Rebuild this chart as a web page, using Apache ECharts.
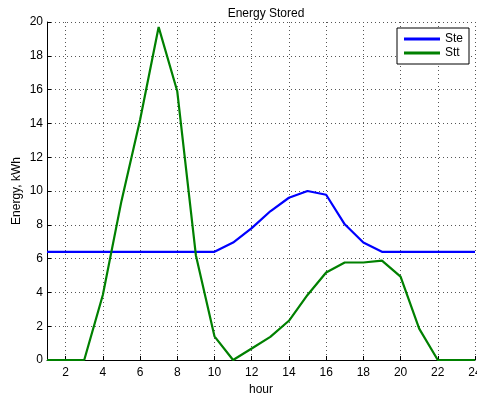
<!DOCTYPE html>
<html><head><meta charset="utf-8">
<script src="https://cdn.jsdelivr.net/npm/echarts@6/dist/echarts.min.js"></script>
<style>html,body{margin:0;padding:0;background:#fff}#c{width:477px;height:393px}</style>
</head><body><div id="c"></div>
<script>
var hours = [1,2,3,4,5,6,7,8,9,10,11,12,13,14,15,16,17,18,19,20,21,22,23,24];
var ste = [6.4,6.4,6.4,6.4,6.4,6.4,6.4,6.4,6.4,6.4,6.95,7.8,8.8,9.6,10.0,9.78,8.03,6.95,6.4,6.4,6.4,6.4,6.4,6.4];
var stt = [0,0,0,3.85,9.4,14.2,19.7,15.9,6.2,1.4,0,0.68,1.37,2.32,3.85,5.18,5.77,5.77,5.88,4.93,1.86,0,0,0];
var xTicks = [2,4,6,8,10,12,14,16,18,20,22,24];
var yTicks = [0,2,4,6,8,10,12,14,16,18,20];
var font = 'Liberation Sans, Arial, Helvetica, sans-serif';
function pairs(v){ return hours.map(function(h,i){ return [h, v[i]]; }); }
var chart = echarts.init(document.getElementById('c'), null, {renderer:'canvas'});
chart.setOption({
  animation:false,
  backgroundColor:'#fff',
  title:{text:'Energy Stored', left:261, textAlign:'center', top:3,
    textStyle:{fontFamily:font, fontSize:12, fontWeight:'normal', color:'#000'}},
  legend:{left:397, top:28, orient:'vertical', icon:'rect', itemWidth:36, itemHeight:3, itemGap:0,
    padding:[4,6,4,7], borderColor:'#000', borderWidth:1, backgroundColor:'#fff',
    textStyle:{fontFamily:font, fontSize:12, color:'#000', lineHeight:14},
    data:['Ste','Stt']},
  grid:{left:47, right:2, top:22, bottom:33, containLabel:false, outerBoundsMode:'none'},
  xAxis:{type:'value', min:1, max:24, name:'hour', nameLocation:'middle', nameGap:20,
    nameTextStyle:{fontFamily:font, fontSize:12, color:'#000'},
    axisLine:{show:true, onZero:false, lineStyle:{color:'#000', width:1}},
    axisTick:{show:true, inside:true, length:4, customValues:xTicks, lineStyle:{color:'#000'}},
    axisLabel:{fontFamily:font, fontSize:12, color:'#000', margin:7, customValues:xTicks, hideOverlap:false},
    splitLine:{show:true, lineStyle:{type:[1,3], color:'#555', width:1}}},
  yAxis:{type:'value', min:0, max:20, interval:2, name:'Energy, kWh', nameLocation:'middle', nameGap:24,
    nameMoveOverlap:false,
    nameTextStyle:{fontFamily:font, fontSize:12, color:'#000'},
    axisLine:{show:true, lineStyle:{color:'#000', width:1}},
    axisTick:{show:true, inside:true, length:4, customValues:yTicks, lineStyle:{color:'#000'}},
    axisLabel:{fontFamily:font, fontSize:12, color:'#000', margin:4, customValues:yTicks},
    splitLine:{show:true, lineStyle:{type:[1,3], color:'#555', width:1}}},
  series:[
    {name:'Ste', type:'line', data:pairs(ste), symbol:'none', lineStyle:{color:'#0000ff', width:2.2}, itemStyle:{color:'#0000ff'}},
    {name:'Stt', type:'line', data:pairs(stt), symbol:'none', lineStyle:{color:'#008000', width:2.2}, itemStyle:{color:'#008000'}}
  ]
});
</script></body></html>
